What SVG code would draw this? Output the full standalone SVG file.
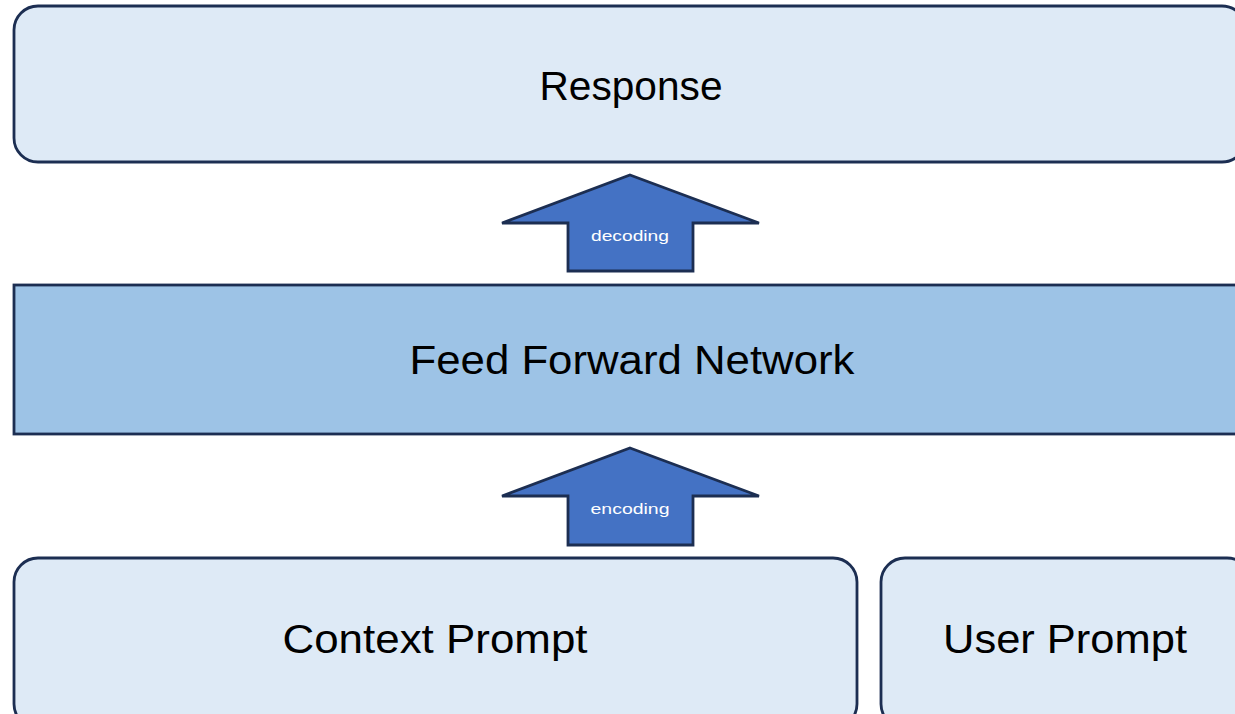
<svg xmlns="http://www.w3.org/2000/svg" width="1235" height="714" viewBox="0 0 1235 714">
<style>
.box{fill:#DEEAF6;stroke:#1C2E52;stroke-width:2.8}
.ffn{fill:#9DC3E6;stroke:#1C2E52;stroke-width:2.8}
.arrow{fill:#4472C4;stroke:#1C2E52;stroke-width:2.8;stroke-linejoin:miter}
.big{font-family:"Liberation Sans",Arial,sans-serif;font-size:41px;fill:#000;text-anchor:middle}
.small{font-family:"Liberation Sans",Arial,sans-serif;font-size:15px;fill:#fff;text-anchor:middle}
</style>
<rect x="0" y="0" width="1235" height="714" fill="#fff"/>
<g id="response">
<rect class="box" x="14" y="6" width="1232" height="156" rx="24" ry="24"/>
<text class="big" x="631" y="100" textLength="183" lengthAdjust="spacingAndGlyphs">Response</text>
</g>
<g id="ffn">
<rect class="ffn" x="14" y="285" width="1240" height="149"/>
<text class="big" x="632" y="374" textLength="445" lengthAdjust="spacingAndGlyphs">Feed Forward Network</text>
</g>
<g id="context-prompt">
<rect class="box" x="14" y="558" width="843" height="170" rx="24" ry="24"/>
<text class="big" x="435" y="653" textLength="305" lengthAdjust="spacingAndGlyphs">Context Prompt</text>
</g>
<g id="user-prompt">
<rect class="box" x="881" y="558" width="370" height="170" rx="24" ry="24"/>
<text class="big" x="1065" y="653" textLength="244" lengthAdjust="spacingAndGlyphs">User Prompt</text>
</g>
<g id="connectors">
<g id="decoding">
<polygon class="arrow" points="630,175 759,223 693,223 693,271 568,271 568,223 502,223"/>
<text class="small" x="630" y="241" textLength="78" lengthAdjust="spacingAndGlyphs">decoding</text>
</g>
<g id="encoding">
<polygon class="arrow" points="630,448 759,496 693,496 693,545 568,545 568,496 502,496"/>
<text class="small" x="630" y="514" textLength="79" lengthAdjust="spacingAndGlyphs">encoding</text>
</g>
</g>
</svg>
